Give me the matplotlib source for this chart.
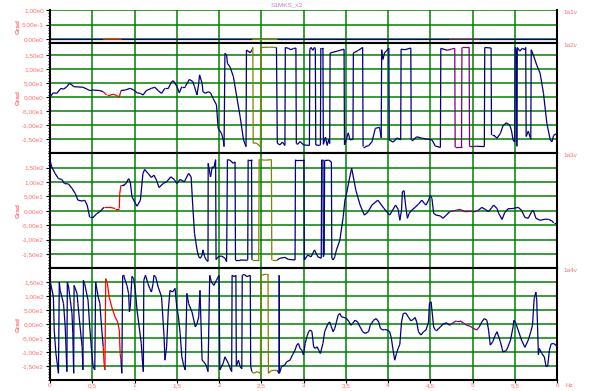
import numpy as np
import matplotlib
matplotlib.use('Agg')
import matplotlib.pyplot as plt
from matplotlib.collections import LineCollection
from matplotlib.ticker import MultipleLocator

# ==========================================
# DATA (Hz, Grad)
# ==========================================
freq_1a1 = [0.0, 0.63, 0.84, 2.39, 2.69, 4.72, 5.08, 6.0]
grad_1a1 = [0, 0, 0, 0, 0, 0, 0, 0]

freq_1a2 = [0.00, 0.04, 0.08, 0.13, 0.16, 0.20, 0.23, 0.26, 0.28, 0.39, 0.44, 0.47, 0.51, 0.59,
            0.63, 0.67, 0.71, 0.75, 0.79, 0.82, 0.84, 0.89, 0.95, 0.99, 1.03, 1.07, 1.10, 1.14,
            1.20, 1.24, 1.28, 1.32, 1.36, 1.40, 1.44, 1.46, 1.50, 1.53, 1.56, 1.60, 1.65, 1.69,
            1.71, 1.74, 1.76, 1.77, 1.80, 1.81, 1.84, 1.87, 1.90, 1.93, 1.97, 1.99, 2.03, 2.05,
            2.06, 2.07, 2.09, 2.10, 2.13, 2.17, 2.21, 2.25, 2.29, 2.32, 2.325, 2.37, 2.39, 2.40,
            2.405, 2.44, 2.49, 2.495, 2.60, 2.68, 2.69, 2.72, 2.75, 2.78, 2.785, 2.82, 2.85, 2.88,
            2.91, 2.915, 2.93, 2.96, 3.00, 3.07, 3.075, 3.09, 3.11, 3.13, 3.14, 3.145, 3.19, 3.20,
            3.205, 3.23, 3.235, 3.26, 3.28, 3.30, 3.31, 3.315, 3.40, 3.48, 3.485, 3.53, 3.55, 3.585,
            3.59, 3.65, 3.70, 3.705, 3.73, 3.77, 3.81, 3.85, 3.90, 3.92, 3.925, 3.94, 3.96, 3.98,
            4.01, 4.015, 4.06, 4.11, 4.15, 4.155, 4.20, 4.27, 4.275, 4.30, 4.34, 4.40, 4.46, 4.52,
            4.56, 4.62, 4.625, 4.70, 4.75, 4.79, 4.795, 4.87, 4.875, 4.96, 4.965, 5.05, 5.14, 5.145,
            5.22, 5.225, 5.25, 5.29, 5.33, 5.36, 5.40, 5.44, 5.46, 5.48, 5.50, 5.505, 5.52, 5.525,
            5.53, 5.56, 5.59, 5.62, 5.63, 5.635, 5.66, 5.69, 5.695, 5.72, 5.76, 5.80, 5.84, 5.88,
            5.92, 5.94, 5.96, 6.00]
grad_1a2 = [2, 16, 14, 32, 29, 38, 50, 44, 38, 36, 29, 24, 26, 24,
            20, 8, 8, 11, 6, 1, 24, 26, 32, 26, 16, 14, 8, 24,
            32, 36, 24, 14, 32, 32, 56, 59, 40, 16, 38, 38, 64, 56,
            38, 8, 50, 80, 50, 20, 14, 20, 16, -4, -27, -111, -129, -152,
            -176, 157, 151, 121, 109, 74, 2, -69, -152, -176, 169, 159, 169, 178,
            -164, -163, -176, 178, 179, 178, -164, -170, -160, -172, 178, 175, 170, 174,
            176, -165, -168, -158, -170, -172, 172, 178, 168, 178, 175, -170, -172, -170,
            176, 176, -168, -142, -172, -150, -165, 158, 165, 172, -170, -127, -152, -150,
            158, 168, 178, -176, -176, -173, -159, -111, -107, -145, 170, 135, 160, 165,
            176, -152, -160, -145, -152, 172, 170, 176, -152, -152, -141, -146, -149, -152,
            -174, -179, 175, 168, 172, 175, -178, -178, 178, 178, -176, -175, -176, 178,
            176, -135, -135, -146, -129, -102, -91, -99, -117, -152, -160, 178, 170, -175,
            178, 165, 175, 170, 178, -140, -121, -150, 170, 151, 115, 86, 14, -93,
            -152, -159, -136, -129]

freq_1a3 = [0.00, 0.02, 0.06, 0.10, 0.14, 0.17, 0.22, 0.26, 0.30, 0.33, 0.38, 0.41, 0.44, 0.47,
            0.51, 0.55, 0.59, 0.64, 0.71, 0.77, 0.82, 0.825, 0.84, 0.87, 0.90, 0.93, 0.95, 0.97,
            1.01, 1.03, 1.07, 1.10, 1.12, 1.16, 1.20, 1.23, 1.26, 1.29, 1.34, 1.38, 1.43, 1.47,
            1.50, 1.54, 1.59, 1.64, 1.67, 1.69, 1.71, 1.74, 1.76, 1.78, 1.80, 1.81, 1.83, 1.85,
            1.87, 1.872, 1.90, 1.92, 1.94, 1.96, 1.965, 1.99, 2.03, 2.07, 2.09, 2.10, 2.13, 2.17,
            2.19, 2.195, 2.25, 2.33, 2.34, 2.345, 2.385, 2.39, 2.47, 2.475, 2.55, 2.62, 2.625, 2.69,
            2.72, 2.78, 2.82, 2.90, 2.905, 3.005, 3.01, 3.05, 3.09, 3.13, 3.17, 3.21, 3.215, 3.23,
            3.235, 3.245, 3.25, 3.30, 3.33, 3.335, 3.35, 3.37, 3.39, 3.43, 3.47, 3.49, 3.51, 3.54,
            3.57, 3.62, 3.67, 3.72, 3.76, 3.81, 3.88, 3.95, 4.02, 4.09, 4.12, 4.14, 4.16, 4.17,
            4.19, 4.21, 4.23, 4.25, 4.28, 4.32, 4.36, 4.40, 4.43, 4.45, 4.48, 4.50, 4.52, 4.54,
            4.57, 4.62, 4.65, 4.69, 4.73, 4.81, 4.85, 4.91, 4.97, 5.03, 5.07, 5.11, 5.15, 5.19,
            5.23, 5.25, 5.29, 5.31, 5.35, 5.38, 5.42, 5.48, 5.54, 5.58, 5.62, 5.66, 5.70, 5.72,
            5.75, 5.80, 5.86, 5.90, 5.94, 5.96, 6.00]
grad_1a3 = [176, 153, 130, 112, 109, 95, 93, 78, 60, 37, 34, 37, 20, -23,
            -23, -11, -3, 12, 12, 8, 8, 60, 89, 89, 95, 112, 100, 49,
            26, 16, 37, 130, 144, 130, 116, 124, 107, 81, 95, 101, 118, 109,
            95, 109, 101, 130, 118, 14, -78, -136, -160, -165, -154, -136, -160, -171,
            -176, 165, 118, 153, 150, 178, -170, -160, -157, -165, -177, 178, 176, 165,
            170, -171, -171, -172, -170, 178, 178, -171, -171, 178, 176, 178, -171, -171,
            -165, -162, -169, -171, 178, 178, -171, -154, -160, -136, -160, -165, 178, 178,
            -160, -150, 175, 176, 170, -165, -171, -160, -136, -102, -21, 37, 60, 107,
            148, 71, 20, -15, -5, 20, 37, 9, -15, 20, 5, -33, 2, 66,
            70, 14, -26, -9, 2, 12, 23, 37, 26, 20, 37, 54, 43, -9,
            -15, -18, -26, -15, -3, 2, 5, -3, -2, -3, 2, 12, 5, -3,
            12, 20, 8, -9, -30, -7, 7, 8, 12, 2, -23, -26, -3, 2,
            -26, -33, -29, -30, -35, -42, -42]

freq_1a4 = [0.00, 0.04, 0.05, 0.07, 0.09, 0.10, 0.11, 0.12, 0.14, 0.16, 0.18, 0.20, 0.205, 0.22,
            0.24, 0.26, 0.27, 0.28, 0.285, 0.32, 0.33, 0.36, 0.38, 0.39, 0.395, 0.41, 0.45, 0.47,
            0.49, 0.51, 0.53, 0.54, 0.57, 0.59, 0.61, 0.63, 0.64, 0.65, 0.66, 0.68, 0.70, 0.73,
            0.77, 0.80, 0.82, 0.83, 0.84, 0.85, 0.86, 0.87, 0.91, 0.93, 0.94, 0.95, 0.97, 0.99,
            1.01, 1.03, 1.06, 1.08, 1.10, 1.105, 1.11, 1.13, 1.16, 1.18, 1.20, 1.22, 1.23, 1.25,
            1.28, 1.32, 1.35, 1.36, 1.38, 1.40, 1.42, 1.45, 1.48, 1.50, 1.52, 1.54, 1.56, 1.58,
            1.60, 1.62, 1.64, 1.68, 1.72, 1.74, 1.76, 1.775, 1.80, 1.82, 1.85, 1.87, 1.89, 1.91,
            1.94, 1.97, 1.99, 2.00, 2.01, 2.05, 2.07, 2.11, 2.14, 2.15, 2.155, 2.18, 2.20, 2.205,
            2.23, 2.25, 2.27, 2.275, 2.30, 2.33, 2.37, 2.375, 2.39, 2.41, 2.45, 2.49, 2.495, 2.56,
            2.58, 2.585, 2.62, 2.66, 2.69, 2.71, 2.712, 2.715, 2.74, 2.78, 2.80, 2.84, 2.87, 2.90,
            2.92, 2.94, 2.96, 2.98, 3.00, 3.02, 3.04, 3.06, 3.08, 3.10, 3.12, 3.14, 3.16, 3.18,
            3.20, 3.23, 3.25, 3.29, 3.31, 3.33, 3.35, 3.37, 3.39, 3.41, 3.43, 3.45, 3.48, 3.51,
            3.54, 3.56, 3.58, 3.61, 3.64, 3.67, 3.70, 3.73, 3.77, 3.79, 3.83, 3.86, 3.89, 3.91,
            3.94, 3.96, 3.99, 4.02, 4.04, 4.06, 4.08, 4.10, 4.12, 4.14, 4.16, 4.18, 4.21, 4.24,
            4.27, 4.30, 4.32, 4.34, 4.36, 4.39, 4.42, 4.45, 4.48, 4.49, 4.51, 4.52, 4.54, 4.56,
            4.58, 4.62, 4.65, 4.69, 4.73, 4.77, 4.81, 4.85, 4.89, 4.93, 4.97, 5.01, 5.05, 5.08,
            5.11, 5.14, 5.17, 5.19, 5.21, 5.24, 5.27, 5.29, 5.33, 5.35, 5.36, 5.40, 5.42, 5.45,
            5.48, 5.49, 5.51, 5.54, 5.58, 5.62, 5.66, 5.69, 5.71, 5.73, 5.75, 5.76, 5.77, 5.78,
            5.79, 5.82, 5.85, 5.87, 5.89, 5.91, 5.93, 5.96, 6.00]
grad_1a4 = [157, 98, -21, -105, -152, -176, 151, 121, 98, 74, -10, -170, 151, 133,
            86, 38, -33, -176, 139, 110, 74, -21, -81, -164, 157, 145, 86, -10,
            -87, -152, -164, 151, 98, 74, -10, -81, -140, -164, 163, 145, 98, 62,
            26, 8, -21, -105, -129, -176, 175, 175, 139, 110, 44, 62, 171, 163,
            121, 50, -21, -69, -158, -170, 157, 175, 145, 128, 115, 145, 175, 170,
            133, 98, -45, -129, -81, 50, 121, 115, 128, 62, 26, -33, -117, -146,
            -164, 110, 74, 44, -10, 2, 26, 121, -129, -135, -148, -170, 175, 151,
            139, 157, 169, 175, -164, -140, -117, -140, -164, -170, 175, 170, 175, -150,
            -129, -152, -160, 175, 178, 170, 175, -152, -170, -176, -170, -176, 175, 179,
            179, -176, -166, -165, -166, -176, 175, -176, -152, -146, -135, -129, -110, -93,
            -75, -69, -87, -93, -110, -69, -45, -27, -21, -27, -81, -87, -81, -93,
            -105, -69, -27, 2, 8, -10, -27, -15, 8, 32, 38, 26, 24, 20,
            8, -4, 2, 14, 8, -10, -27, -33, -27, -4, 14, 20, 8, -15,
            -21, -19, -21, -27, -51, -93, -129, -105, -87, -72, 8, 38, 40, 26,
            12, 17, 24, 8, -27, -39, -27, -21, 8, 74, 80, 50, -10, -21,
            -21, -10, 0, 5, -4, 5, 12, 12, 5, -4, -7, -15, -21, -10,
            8, 20, 14, -21, -75, -63, -39, -27, -63, -87, -99, -95, -81, -57,
            -10, 14, 5, -21, -57, -83, -57, -27, -4, 92, 115, 86, -10, -110,
            -87, -105, -117, -152, -150, -93, -71, -69, -79]

channel_names = ['1a1v', '1a2v', '1a3v', '1a4v']

# highlighted frequency bands (drawn in another colour on every channel)
bands = [((0.63, 0.84), '#FF0000'), ((2.39, 2.685), '#808000'), ((4.72, 5.08), '#800080')]

x_ticks = [0, 0.5, 1, 1.5, 2, 2.5, 3, 3.5, 4, 4.5, 5, 5.5, 6]
x_labels = ['0', '0,5', '1', '1,5', '2', '2,5', '3', '3,5', '4', '4,5', '5', '5,5', '6']
y_ticks_small = [0, 0.5, 1.0]
y_labels_small = ['0,00e0', '5,00e-1', '1,00e0']
y_ticks_big = [-150, -100, -50, 0, 50, 100, 150]
y_labels_big = ['-1,50e2', '-1,00e2', '-5,00e1', '0,00e0', '5,00e1', '1,00e2', '1,50e2']

# ==========================================
# STYLE
# ==========================================
NAVY = '#000080'
GRID = '#008000'
LABEL = '#FF6E6E'
FS = 4.6
plt.rcParams['font.family'] = ['Liberation Sans Narrow', 'Liberation Sans', 'DejaVu Sans']

W, H = 593, 391
fig = plt.figure(figsize=(W / 100, H / 100), dpi=100)

# panel limits in pixels from the top (top, bottom) and y-range
panels = [
    (10.0, 42.7, (-0.12, 1.0)),
    (42.7, 153.3, (-200, 195)),
    (153.3, 268.3, (-200, 200)),
    (268.3, 380.0, (-200, 200)),
]
left_px, right_px = 50, 557

series = [(freq_1a1, grad_1a1), (freq_1a2, grad_1a2), (freq_1a3, grad_1a3), (freq_1a4, grad_1a4)]

for i, ((top, bot, ylim), (f, g)) in enumerate(zip(panels, series)):
    ax = fig.add_axes([left_px / W, 1 - bot / H, (right_px - left_px) / W, (bot - top) / H])
    ax.set_xlim(0, 6)
    ax.set_ylim(*ylim)

    # green grid
    ax.set_xticks(x_ticks)
    ax.xaxis.grid(True, color=GRID, lw=1.1)
    if i == 0:
        ax.set_yticks(y_ticks_small)
        ax.set_yticklabels(y_labels_small)
        ax.yaxis.set_minor_locator(MultipleLocator(0.1))
    else:
        ax.set_yticks(y_ticks_big)
        ax.set_yticklabels(y_labels_big)
        ax.yaxis.set_minor_locator(MultipleLocator(10))
    ax.yaxis.grid(True, color=GRID, lw=1.1)
    ax.set_axisbelow(True)

    # data line, coloured per band
    f = np.array(f, dtype=float)
    g = np.array(g, dtype=float)
    pts = np.column_stack([f, g])
    segs = np.stack([pts[:-1], pts[1:]], axis=1)
    mid = (f[:-1] + f[1:]) / 2
    colors = [NAVY] * len(mid)
    for (a, b), c in bands:
        for k in range(len(mid)):
            if a < mid[k] < b:
                colors[k] = c
    ax.add_collection(LineCollection(segs, colors=colors, linewidths=0.9, zorder=3))

    # spines
    for s in ax.spines.values():
        s.set_color('black')
        s.set_linewidth(1.5)
    if i == 0:
        ax.spines['top'].set_visible(False)

    ax.tick_params(axis='y', which='major', length=3, width=0.8, colors='black',
                   labelcolor=LABEL, labelsize=FS, pad=1.5)
    ax.tick_params(axis='y', which='minor', length=1.5, width=0.6)
    if i < 3:
        ax.tick_params(axis='x', length=0, labelbottom=False)
    else:
        ax.set_xticklabels(x_labels)
        ax.tick_params(axis='x', length=2, width=0.8, labelcolor=LABEL, labelsize=FS, pad=0.5)

    # y label and channel name
    ymid = 1 - (top + bot) / 2 / H
    fig.text(18 / W, ymid, 'Grad', rotation=90, ha='center', va='center',
             color=LABEL, fontsize=FS, fontweight='bold')
    fig.text(563 / W, 1 - (top + 2.5) / H, channel_names[i], ha='left', va='center',
             color=LABEL, fontsize=FS)

fig.text(566 / W, 1 - 385.5 / H, 'Hz', ha='left', va='center', color=LABEL, fontsize=FS)
fig.text(287 / W, 1 - 4.5 / H, 'S1MKS_x3', ha='center', va='center', color='#C080C0', fontsize=FS)

fig.savefig('out.png', dpi=100)
